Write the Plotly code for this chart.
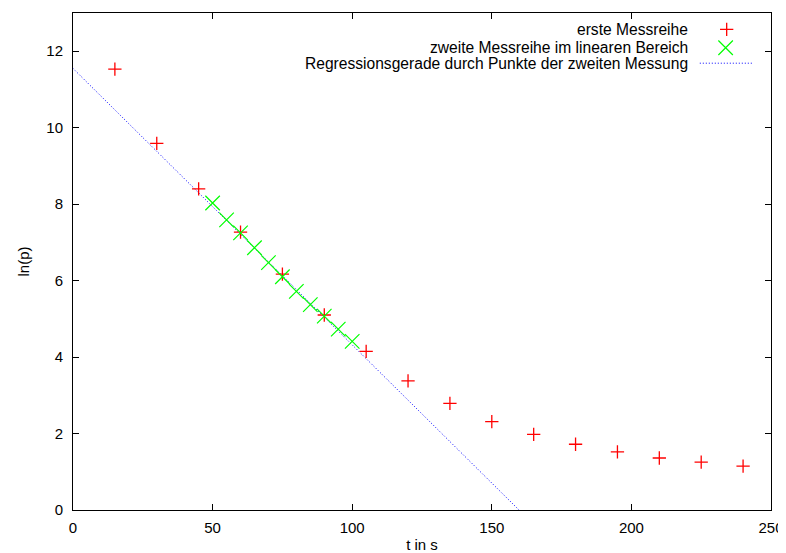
import plotly.graph_objects as go

# erste Messreihe
t1 = [15, 30, 45, 60, 75, 90, 105, 120, 135, 150, 165, 180, 195, 210, 225, 240]
lnp1 = [11.53, 9.59, 8.40, 7.27, 6.17, 5.10, 4.15, 3.38, 2.79, 2.31, 1.98, 1.72, 1.52, 1.36, 1.25, 1.15]

# zweite Messreihe im linearen Bereich
t2 = [50, 55, 60, 65, 70, 75, 80, 85, 90, 95, 100]
lnp2 = [8.03, 7.59, 7.25, 6.86, 6.47, 6.10, 5.72, 5.37, 5.07, 4.73, 4.41]

# Regressionsgerade ln(p) = a + b*t
reg_a = 11.55
reg_b = -0.0723
t_reg = [0, 250]
lnp_reg = [reg_a + reg_b * t for t in t_reg]

legend_labels = ["erste Messreihe",
                 "zweite Messreihe im linearen Bereich",
                 "Regressionsgerade durch Punkte der zweiten Messung"]

x_ticks = [0, 50, 100, 150, 200, 250]
y_ticks = [0, 2, 4, 6, 8, 10, 12]

FONT = "Liberation Sans, Arial, sans-serif"
FS = 15
FS_KEY = 15.6
RED = "#ff0000"
GREEN = "#00ff00"
BLUE = "#0000ff"

RED_MARKER = dict(symbol="cross-thin", size=9.5, color=RED, line=dict(color=RED, width=1.3))
GREEN_MARKER = dict(symbol="x-thin", size=14.5, color=GREEN, line=dict(color=GREEN, width=1.2))
REG_LINE = dict(color=BLUE, width=1, dash="1px,2px")

fig = go.Figure()

fig.add_trace(go.Scatter(x=t_reg, y=lnp_reg, mode="lines", line=REG_LINE,
                         showlegend=False, hoverinfo="skip"))
fig.add_trace(go.Scatter(x=t1, y=lnp1, mode="markers", marker=RED_MARKER, showlegend=False))
fig.add_trace(go.Scatter(x=t2, y=lnp2, mode="markers", marker=GREEN_MARKER, showlegend=False))

# gnuplot-style key (text right, sample to the right) on hidden overlay axes
key_y = [0.967, 0.930, 0.899]
fig.add_trace(go.Scatter(x=[0.9365], y=[key_y[0]], xaxis="x2", yaxis="y2", mode="markers",
                         marker=RED_MARKER, showlegend=False, hoverinfo="skip"))
fig.add_trace(go.Scatter(x=[0.935], y=[key_y[1]], xaxis="x2", yaxis="y2", mode="markers",
                         marker=GREEN_MARKER, showlegend=False, hoverinfo="skip"))
fig.add_trace(go.Scatter(x=[0.898, 0.973], y=[key_y[2], key_y[2]], xaxis="x2", yaxis="y2",
                         mode="lines", line=REG_LINE, showlegend=False, hoverinfo="skip"))

annotations = []
for lab, yy in zip(legend_labels, key_y):
    annotations.append(dict(text=lab, x=0.884, y=yy, xref="paper", yref="paper",
                            xanchor="right", yanchor="middle", showarrow=False,
                            font=dict(family=FONT, size=FS_KEY, color="#000000")))

axis_common = dict(showline=True, linecolor="#000000", linewidth=1, mirror="ticks",
                   ticks="inside", ticklen=6, tickcolor="#000000", tickwidth=1,
                   showgrid=False, zeroline=False, automargin=False,
                   tickfont=dict(family=FONT, size=FS, color="#000000"))

# the page body adds an 8 px offset, so the figure is 8 px smaller than the window
fig.update_layout(
    width=778, height=545,
    margin=dict(l=65, r=15, t=5, b=43),
    paper_bgcolor="white", plot_bgcolor="white",
    font=dict(family=FONT, size=FS, color="#000000"),
    xaxis=dict(range=[0, 250], tickvals=x_ticks, ticklabelstandoff=4,
               title=dict(text="t in s", standoff=10,
                          font=dict(family=FONT, size=FS)),
               **axis_common),
    yaxis=dict(range=[0, 13], tickvals=y_ticks, ticklabelstandoff=6,
               title=dict(text="ln(p)", standoff=13,
                          font=dict(family=FONT, size=FS)),
               **axis_common),
    xaxis2=dict(overlaying="x", anchor="y2", range=[0, 1], visible=False),
    yaxis2=dict(overlaying="y", anchor="x2", range=[0, 1], visible=False),
    annotations=annotations,
    showlegend=False,
)

fig.write_html("out.html")
